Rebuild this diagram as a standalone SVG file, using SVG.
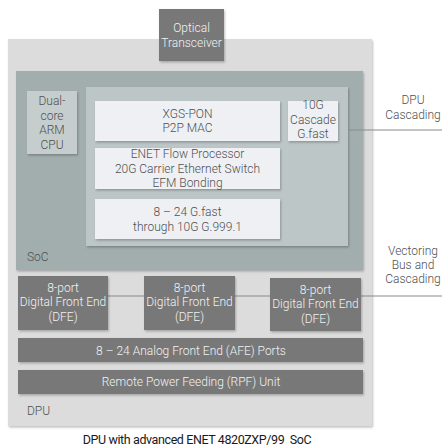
<svg xmlns="http://www.w3.org/2000/svg" width="442" height="448" viewBox="0 0 442 448">
<defs>
<filter id="sh" x="-10%" y="-10%" width="130%" height="130%">
<feDropShadow dx="1" dy="1.5" stdDeviation="1" flood-color="#000" flood-opacity="0.25"/>
</filter>
</defs>
<style>
text{font-family:Roboto,"Liberation Sans",sans-serif;font-size:12px;font-weight:300;text-anchor:middle}
.lt{fill:#505050}
.dk{fill:#f2f2f2}
.lb{fill:#505050}
.dbox{fill:#787878;filter:url(#sh)}
.wbox{fill:#eef0f4;filter:url(#sh)}
.conn{stroke:#8a8a8a;stroke-width:1;fill:none}
</style>
<rect width="442" height="448" fill="#ffffff"/>
<g id="dpu">
<rect x="8" y="39" width="364" height="387" fill="#dcdcdc" filter="url(#sh)"/>
<text x="27" y="415" class="lt" style="text-anchor:start">DPU</text>
</g>
<g id="soc">
<rect x="16" y="71" width="347" height="199" fill="#a2aeae" filter="url(#sh)"/>
<rect x="86" y="87" width="262" height="159" fill="#bcc6c6" filter="url(#sh)"/>
<text x="27" y="261" class="lt" style="text-anchor:start">SoC</text>
</g>
<g id="connectors">
<line class="conn" x1="348" y1="130" x2="442" y2="130"/>
<line class="conn" x1="108" y1="296" x2="144" y2="296"/>
<line class="conn" x1="235" y1="296" x2="270" y2="296"/>
<line class="conn" x1="361" y1="296" x2="442" y2="296"/>
</g>
<g id="optical">
<rect x="159" y="9" width="65" height="52" class="dbox"/>
<text x="191.5" y="32" class="dk">Optical</text>
<text x="191.5" y="47" class="dk">Transceiver</text>
</g>
<g id="cpu">
<rect x="27" y="91" width="50" height="63" fill="#c6cdcd" filter="url(#sh)"/>
<text x="52" y="105" class="lt">Dual-</text>
<text x="52" y="119.5" class="lt">core</text>
<text x="52" y="134" class="lt">ARM</text>
<text x="52" y="148.5" class="lt">CPU</text>
</g>
<g id="xgspon">
<rect x="95" y="101" width="185" height="40" class="wbox"/>
<text x="187.5" y="118" class="lt">XGS-PON</text>
<text x="187.5" y="131.5" class="lt">P2P MAC</text>
</g>
<g id="cascade">
<rect x="288" y="101" width="50" height="40" class="wbox"/>
<text x="313" y="109" class="lt">10G</text>
<text x="313" y="123.5" class="lt">Cascade</text>
<text x="313" y="138" class="lt">G.fast</text>
</g>
<g id="enet">
<rect x="95" y="148" width="185" height="41" class="wbox"/>
<text x="187.5" y="157.5" class="lt">ENET Flow Processor</text>
<text x="187.5" y="172.5" class="lt">20G Carrier Ethernet Switch</text>
<text x="187.5" y="187" class="lt">EFM Bonding</text>
</g>
<g id="gfast">
<rect x="95" y="199" width="185" height="40" class="wbox"/>
<text x="187.5" y="216" class="lt">8 – 24 G.fast</text>
<text x="187.5" y="230.5" class="lt">through 10G G.999.1</text>
</g>
<g id="dfe1">
<rect x="18" y="276" width="90" height="54" class="dbox"/>
<text x="63" y="292" class="dk">8-port</text>
<text x="63" y="306" class="dk">Digital Front End</text>
<text x="63" y="320.5" class="dk">(DFE)</text>
</g>
<g id="dfe2">
<rect x="144" y="276" width="91" height="54" class="dbox"/>
<text x="189.5" y="292" class="dk">8-port</text>
<text x="189.5" y="306" class="dk">Digital Front End</text>
<text x="189.5" y="320.5" class="dk">(DFE)</text>
</g>
<g id="dfe3">
<rect x="270" y="278" width="91" height="53" class="dbox"/>
<text x="315.5" y="294" class="dk">8-port</text>
<text x="315.5" y="308" class="dk">Digital Front End</text>
<text x="315.5" y="322.5" class="dk">(DFE)</text>
</g>
<g id="afe">
<rect x="18" y="338" width="345" height="24" class="dbox"/>
<text x="191" y="355" class="dk">8 – 24 Analog Front End (AFE) Ports</text>
</g>
<g id="rpf">
<rect x="18" y="370" width="345" height="24" class="dbox"/>
<text x="191" y="386" class="dk">Remote Power Feeding (RPF) Unit</text>
</g>
<g id="labels">
<text x="413" y="104" class="lb">DPU</text>
<text x="413" y="119" class="lb">Cascading</text>
<text x="413" y="255" class="lb">Vectoring</text>
<text x="413" y="269" class="lb">Bus and</text>
<text x="413" y="283" class="lb">Cascading</text>
<text x="197" y="444" style="fill:#1a1a1a;font-size:12.5px;font-weight:400;letter-spacing:-0.4px;white-space:pre">DPU with advanced ENET 4820ZXP/99  SoC</text>
</g>
</svg>
